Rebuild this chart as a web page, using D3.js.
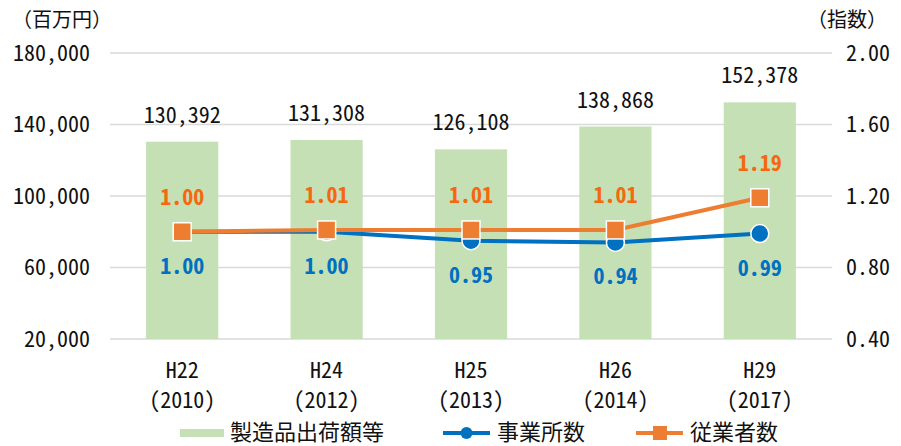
<!DOCTYPE html>
<html><head><meta charset="utf-8">
<script src="https://cdn.jsdelivr.net/npm/d3@7"></script>
<style>
body{margin:0;background:#fff;}
text{font-family:"Noto Sans Mono CJK JP","Noto Sans CJK JP",sans-serif;}
</style></head>
<body>
<svg id="c" width="901" height="446"></svg>
<script>
const categories = ["H22", "H24", "H25", "H26", "H29"];
const years = ["(2010)", "(2012)", "(2013)", "(2014)", "(2017)"];
const shipments = [130392, 131308, 126108, 138868, 152378];
const establishments = [1.00, 1.00, 0.95, 0.94, 0.99];
const employees = [1.00, 1.01, 1.01, 1.01, 1.19];
const leftTicks = [20000, 60000, 100000, 140000, 180000];
const rightTicks = [0.40, 0.80, 1.20, 1.60, 2.00];
const names = ["製造品出荷額等", "事業所数", "従業者数"];

const svg = d3.select("#c");
const m = {l:110, r:832, t:53, b:339};
const x = d3.scaleBand().domain(categories).range([m.l, m.r]).paddingInner(0.5).paddingOuter(0.25);
const yL = d3.scaleLinear().domain([20000, 180000]).range([m.b, m.t]);
const yR = d3.scaleLinear().domain([0.40, 2.00]).range([m.b, m.t]);
const cx = c => x(c) + x.bandwidth()/2;
const fmt = d3.format(",");
const colBar = "#c5e0b4", colBlue = "#0070c0", colOrange = "#ed7d31", colOrangeTxt = "#f5680f";
const FS = 22;

// gridlines
svg.append("g").selectAll("line").data(leftTicks).join("line")
  .attr("x1", m.l).attr("x2", m.r).attr("y1", d=>yL(d)).attr("y2", d=>yL(d))
  .attr("stroke", "#d9d9d9").attr("stroke-width", 1.5);

// bars
svg.append("g").selectAll("rect").data(shipments).join("rect")
  .attr("x", (d,i)=>x(categories[i])).attr("width", x.bandwidth())
  .attr("y", d=>yL(d)).attr("height", d=>m.b - yL(d)).attr("fill", colBar);

// bar labels
svg.append("g").selectAll("text").data(shipments).join("text")
  .attr("x", (d,i)=>cx(categories[i])).attr("y", d=>yL(d)-19)
  .attr("text-anchor","middle").attr("font-size", FS).attr("fill","#111")
  .text(d=>fmt(d));

// left axis
const axL = d3.axisLeft(yL).tickValues(leftTicks).tickSize(0).tickPadding(0).tickFormat(d=>fmt(d));
const gL = svg.append("g").attr("transform", `translate(${m.l-20},0)`).call(axL);
gL.select(".domain").remove();
gL.selectAll("text").attr("font-size", FS).attr("fill","#111");

// right axis
const axR = d3.axisRight(yR).tickValues(rightTicks).tickSize(0).tickPadding(0).tickFormat(d3.format(".2f"));
const gR = svg.append("g").attr("transform", `translate(${m.r+14},0)`).call(axR);
gR.select(".domain").remove();
gR.selectAll("text").attr("font-size", FS).attr("fill","#111");
gL.attr("font-family", null); gR.attr("font-family", null);

// x axis labels
const gx = svg.append("g");
categories.forEach((c,i)=>{
  gx.append("text").attr("x", cx(c)).attr("y", 378).attr("text-anchor","middle")
    .attr("font-size", FS).attr("fill","#111").text(c);
  gx.append("text").attr("x", cx(c)).attr("y", 408).attr("text-anchor","middle")
    .attr("font-size", FS).attr("fill","#111").text(years[i]);
});

// axis titles
svg.append("text").attr("x", 12).attr("y", 27).attr("font-size", 20).attr("fill","#111").text("（百万円）");
svg.append("text").attr("x", 807).attr("y", 27).attr("font-size", 20).attr("fill","#111").text("（指数）");

// lines
const line = d3.line().x((d,i)=>cx(categories[i])).y(d=>yR(d));
svg.append("path").datum(establishments).attr("d", line).attr("fill","none").attr("stroke", colBlue).attr("stroke-width", 4);
svg.append("path").datum(employees).attr("d", line).attr("fill","none").attr("stroke", colOrange).attr("stroke-width", 4);

svg.append("g").selectAll("circle").data(establishments).join("circle")
  .attr("cx", (d,i)=>cx(categories[i])).attr("cy", d=>yR(d)).attr("r", 9)
  .attr("fill", colBlue).attr("stroke","#fff").attr("stroke-width",1.5);
svg.append("g").selectAll("rect").data(employees).join("rect")
  .attr("x", (d,i)=>cx(categories[i])-9).attr("y", d=>yR(d)-9).attr("width",18).attr("height",18)
  .attr("fill", colOrange).attr("stroke","#fff").attr("stroke-width",1.5);

// point labels
svg.append("g").selectAll("text").data(employees).join("text")
  .attr("x", (d,i)=>cx(categories[i])).attr("y", d=>yR(d)-27)
  .attr("text-anchor","middle").attr("font-size", FS).attr("font-weight","bold").attr("fill", colOrangeTxt)
  .text(d=>d.toFixed(2));
svg.append("g").selectAll("text").data(establishments).join("text")
  .attr("x", (d,i)=>cx(categories[i])).attr("y", d=>yR(d)+42)
  .attr("text-anchor","middle").attr("font-size", FS).attr("font-weight","bold").attr("fill", colBlue)
  .text(d=>d.toFixed(2));

// legend
const lg = svg.append("g");
lg.append("rect").attr("x",180).attr("y",429).attr("width",44).attr("height",8).attr("fill",colBar);
lg.append("text").attr("x",230).attr("y",440).attr("font-size",FS).attr("fill","#111").text(names[0]);
lg.append("line").attr("x1",443).attr("x2",490).attr("y1",433).attr("y2",433).attr("stroke",colBlue).attr("stroke-width",4);
lg.append("circle").attr("cx",466.5).attr("cy",433).attr("r",6).attr("fill",colBlue);
lg.append("text").attr("x",497).attr("y",440).attr("font-size",FS).attr("fill","#111").text(names[1]);
lg.append("line").attr("x1",636).attr("x2",683).attr("y1",433).attr("y2",433).attr("stroke",colOrange).attr("stroke-width",4);
lg.append("rect").attr("x",653).attr("y",426).attr("width",14).attr("height",14).attr("fill",colOrange);
lg.append("text").attr("x",690).attr("y",440).attr("font-size",FS).attr("fill","#111").text(names[2]);
</script>
</body></html>
